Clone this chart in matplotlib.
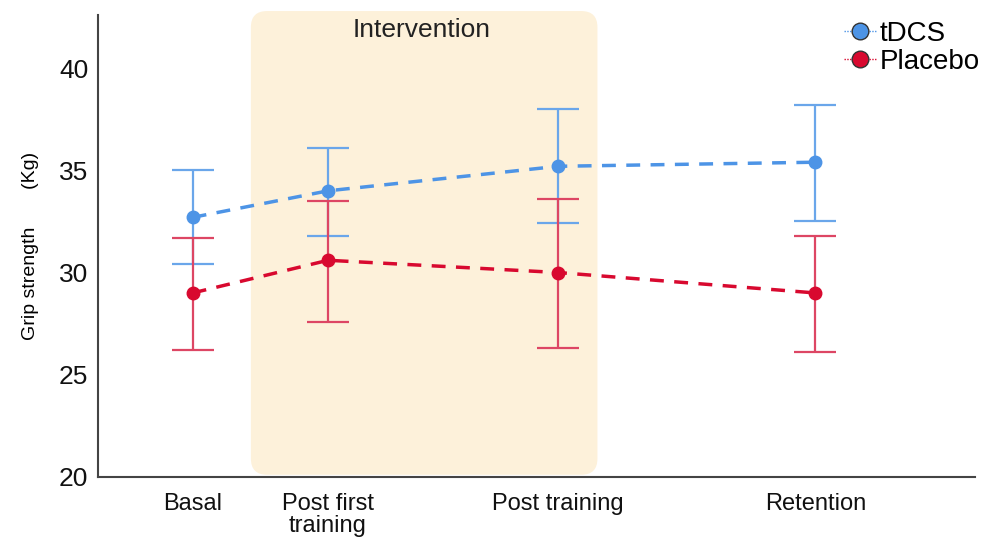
import numpy as np
import matplotlib.pyplot as plt
from matplotlib.patches import FancyBboxPatch

plt.rcParams['font.family'] = ['Liberation Sans', 'DejaVu Sans']

phases = ['Basal', 'Post first\ntraining', 'Post training', 'Retention']

tdcs_mean = [32.7, 34.0, 35.2, 35.4]
tdcs_low = [30.4, 31.8, 32.4, 32.5]
tdcs_high = [35.0, 36.1, 38.0, 38.2]

placebo_mean = [29.0, 30.6, 30.0, 29.0]
placebo_low = [26.2, 27.6, 26.3, 26.1]
placebo_high = [31.7, 33.5, 33.6, 31.8]

# spacing of the time points along the x axis
xpos = np.array([0, 1, 2.7, 4.6])

fig = plt.figure(figsize=(9.89, 5.4), dpi=100)
ax = fig.add_axes([0.099, 0.117, 0.887, 0.855])
ax.set_xlim(-0.70, 5.78)
ax.set_ylim(20, 42.6)

# intervention period (rounded box, aspect corrected so corners are circular)
box = FancyBboxPatch((0.43, 20.1), 2.56, 22.7, boxstyle='round,pad=0,rounding_size=0.12',
                     mutation_aspect=135 / 20.4, facecolor='#fdf1da', edgecolor='none',
                     zorder=0, clip_on=False)
ax.add_patch(box)
ax.text(1.69, 41.85, 'Intervention', ha='center', va='center', fontsize=19, color='#222222')

series = [
    ('tDCS', tdcs_mean, tdcs_low, tdcs_high, '#4d94e6', '#6aa6ea'),
    ('Placebo', placebo_mean, placebo_low, placebo_high, '#d8092f', '#dd4664'),
]
for name, m, lo, hi, col, ecol in series:
    m = np.array(m)
    err = [m - np.array(lo), np.array(hi) - m]
    ax.errorbar(xpos, m, yerr=err, fmt='none', ecolor=ecol, elinewidth=1.6,
                capsize=15, capthick=1.6, zorder=2)
    ax.plot(xpos, m, linestyle=(0, (4, 3)), color=col, linewidth=2.5, zorder=3)
    ax.plot(xpos, m, 'o', color=col, markersize=9, zorder=4)
    ax.plot([], [], marker='o', color=col, markeredgecolor='#333333', markersize=12,
            linestyle=(0, (1, 1)), linewidth=1, label=name)

ax.set_xticks(xpos)
ax.set_xticklabels(phases, fontsize=17, linespacing=1.0)
ax.set_yticks([20, 25, 30, 35, 40])
ax.tick_params(axis='both', length=0, colors='#111111')
ax.tick_params(axis='y', labelsize=19, pad=7)
ax.tick_params(axis='x', pad=12)
ax.set_ylabel('Grip strength       (Kg)', fontsize=14, labelpad=14)

for s in ['top', 'right']:
    ax.spines[s].set_visible(False)
for s in ['left', 'bottom']:
    ax.spines[s].set_color('#444444')
    ax.spines[s].set_linewidth(1.5)

ax.legend(loc='upper left', bbox_to_anchor=(0.853, 0.962), bbox_transform=fig.transFigure,
          frameon=False, fontsize=20, handlelength=1.2, handletextpad=0.1,
          labelspacing=0.08, borderpad=0, borderaxespad=0)

fig.savefig('out.png', dpi=100)
